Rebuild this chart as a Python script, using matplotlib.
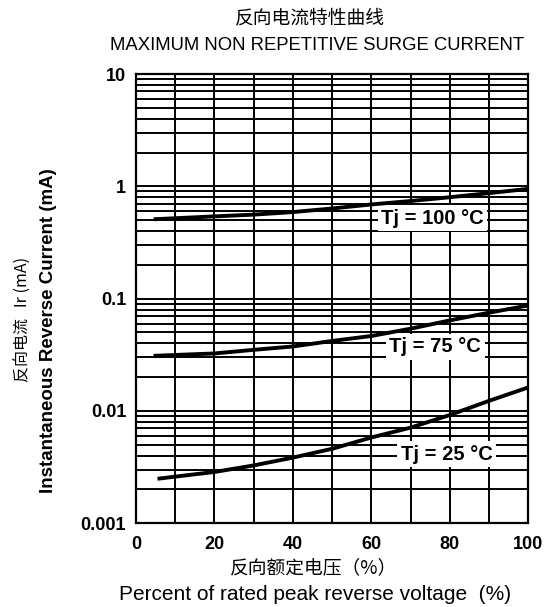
import matplotlib
matplotlib.use("Agg")
import matplotlib.pyplot as plt
from matplotlib.ticker import LogLocator, NullFormatter, FixedLocator

# datos
volt_100 = [5, 10, 20, 30, 40, 50, 60, 70, 80, 90, 100]
ir_100 = [0.51, 0.52, 0.54, 0.56, 0.59, 0.635, 0.69, 0.74, 0.80, 0.87, 0.95]

volt_75 = [5, 10, 20, 30, 40, 50, 60, 70, 80, 90, 100]
ir_75 = [0.031, 0.0315, 0.0325, 0.035, 0.0375, 0.042, 0.0465, 0.054, 0.064, 0.075, 0.087]

volt_25 = [6, 10, 20, 30, 40, 50, 60, 70, 80, 90, 100]
ir_25 = [0.0025, 0.0026, 0.00286, 0.00327, 0.00384, 0.0046, 0.0058, 0.0071, 0.0092, 0.0123, 0.0162]

etiquetas = ["Tj = 100 °C", "Tj = 75 °C", "Tj = 25 °C"]
pos_etiquetas = [(75.6, 0.52), (76.3, 0.0373), (79.2, 0.00413)]

x_ticks = [0, 20, 40, 60, 80, 100]
y_ticks = [0.001, 0.01, 0.1, 1, 10]
y_labels = ["0.001", "0.01", "0.1", "1", "10"]

cjk = ["Noto Sans CJK SC", "DejaVu Sans"]

fig = plt.figure(figsize=(5.48, 6.07), dpi=100)
ax = fig.add_axes([0.248, 0.138, 0.716, 0.74])

ax.set_yscale("log")
ax.set_xlim(0, 100)
ax.set_ylim(0.001, 10)

ax.xaxis.set_major_locator(FixedLocator(x_ticks))
ax.xaxis.set_minor_locator(FixedLocator(list(range(10, 100, 20))))
ax.yaxis.set_major_locator(FixedLocator(y_ticks))
ax.yaxis.set_minor_locator(LogLocator(base=10, subs=range(2, 10)))
ax.yaxis.set_minor_formatter(NullFormatter())
ax.set_yticklabels(y_labels)

ax.grid(True, which="both", color="black", linewidth=1.4)
ax.set_axisbelow(True)
for s in ax.spines.values():
    s.set_linewidth(1.6)
ax.tick_params(which="both", length=0)
ax.tick_params(axis="y", pad=7)
ax.tick_params(axis="x", pad=9)
for t in ax.get_xticklabels() + ax.get_yticklabels():
    t.set_fontfamily("Liberation Sans")
    t.set_fontweight("bold")
    t.set_fontsize(13)

ax.plot(volt_100, ir_100, color="black", linewidth=2.8, zorder=5)
ax.plot(volt_75, ir_75, color="black", linewidth=2.8, zorder=5)
ax.plot(volt_25, ir_25, color="black", linewidth=2.8, zorder=5)

for txt, (px, py) in zip(etiquetas, pos_etiquetas):
    ax.text(px, py, txt, ha="center", va="center", fontsize=14.5, fontweight="bold",
            family="Liberation Sans", zorder=4,
            bbox=dict(facecolor="white", edgecolor="none", pad=2.5))

fig.text(0.565, 0.971, "反向电流特性曲线", ha="center", va="center", fontsize=13.5, family=cjk)
fig.text(0.578, 0.925, "MAXIMUM NON REPETITIVE SURGE CURRENT", ha="center", va="center",
         fontsize=13.3, family="Liberation Sans")

fig.text(0.573, 0.064, "反向额定电压（%）", ha="center", va="center", fontsize=13.5, family=cjk)
fig.text(0.575, 0.02, "Percent of rated peak reverse voltage  (%)", ha="center", va="center",
         fontsize=15, family="Liberation Sans")

fig.text(0.088, 0.455, "Instantaneous Reverse Current (mA)", rotation=90, ha="center", va="center",
         fontsize=13.5, fontweight="bold", family="Liberation Sans")
fig.text(0.040, 0.473, "反向电流   Ir (mA)", rotation=90, ha="center", va="center",
         fontsize=11.5, family=cjk)

fig.savefig("out.png", dpi=100)
